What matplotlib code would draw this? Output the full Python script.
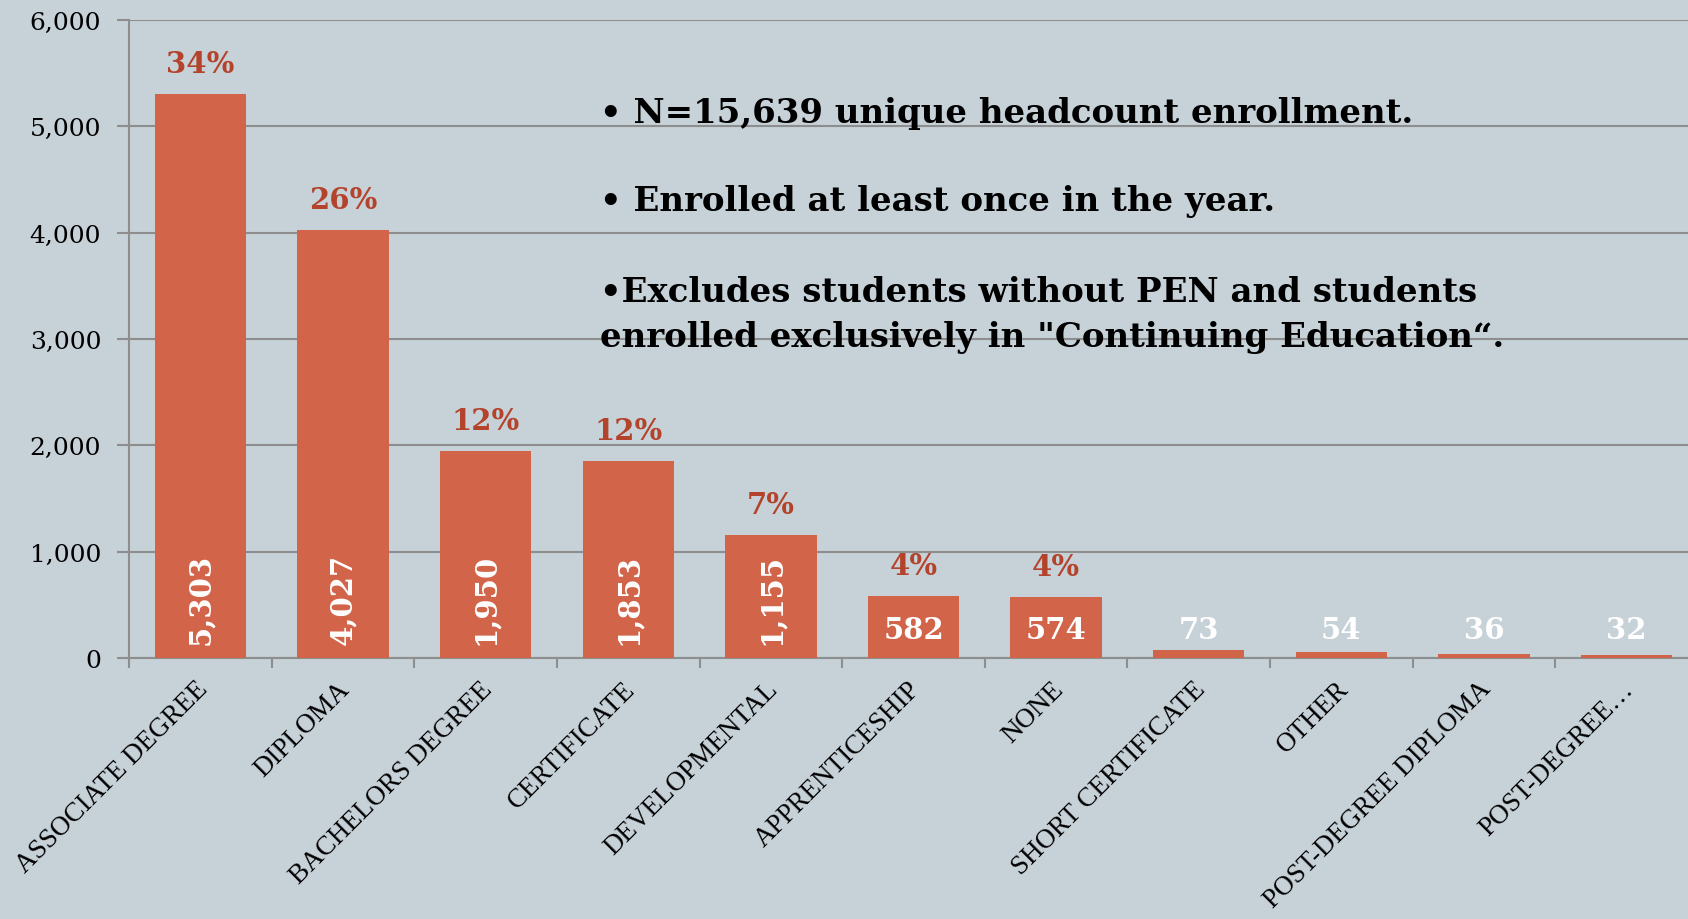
import numpy as np
import matplotlib.pyplot as plt

categories = ['ASSOCIATE DEGREE', 'DIPLOMA', 'BACHELORS DEGREE', 'CERTIFICATE',
              'DEVELOPMENTAL', 'APPRENTICESHIP', 'NONE', 'SHORT CERTIFICATE',
              'OTHER', 'POST-DEGREE DIPLOMA', 'POST-DEGREE…']
headcount = [5303, 4027, 1950, 1853, 1155, 582, 574, 73, 54, 36, 32]
pct_labels = ['34%', '26%', '12%', '12%', '7%', '4%', '4%', '', '', '', '']
notes = ['• N=15,639 unique headcount enrollment.',
         '• Enrolled at least once in the year.',
         '•Excludes students without PEN and students',
         'enrolled exclusively in "Continuing Education“.']

bg = '#C6D1D8'
bar_col = '#D26449'
pct_col = '#B4432B'
grid_col = '#8E8E8E'
serif = ['DejaVu Serif']

fig = plt.figure(figsize=(16.88, 9.2), dpi=100)
fig.patch.set_facecolor(bg)
W, H = 1688, 920
ax = fig.add_axes([129 / W, 261 / H, 1569 / W, 638 / H])
ax.set_facecolor(bg)

x = np.arange(len(categories))
ax.bar(x, headcount, width=0.64, color=bar_col, zorder=3)

ax.set_xlim(-0.5, len(categories) - 0.5)
ax.set_ylim(0, 6000)
ax.set_yticks(range(0, 6001, 1000))
ax.set_yticklabels([f'{v:,}' for v in range(0, 6001, 1000)],
                   fontsize=18, family=serif, color='black')
ax.yaxis.grid(True, color=grid_col, linewidth=1.5, zorder=0)
ax.set_axisbelow(True)

# ticks between categories
ax.set_xticks(np.arange(len(categories) + 1) - 0.5)
ax.set_xticklabels([])
ax.tick_params(axis='x', length=7, width=1.5, color=grid_col, direction='out')
ax.tick_params(axis='y', length=9, width=1.5, color=grid_col, direction='out', pad=11)
for s in ['top', 'right']:
    ax.spines[s].set_visible(False)
for s in ['left', 'bottom']:
    ax.spines[s].set_color(grid_col)
    ax.spines[s].set_linewidth(1.5)

# category labels
for i, c in enumerate(categories):
    ax.annotate(c, (i, 0), xytext=(-4, -13), textcoords='offset points',
                rotation=45, ha='right', va='top', rotation_mode='anchor',
                fontsize=19.5, family=['Liberation Serif'], color='black')

# values and percentages
for i, (v, p) in enumerate(zip(headcount, pct_labels)):
    rot = 90 if v > 1000 else 0
    ax.annotate(f'{v:,}', (i, 0), xytext=(0, 10), textcoords='offset points',
                rotation=rot, ha='center', va='bottom', fontsize=21,
                fontweight='bold', family=serif, color='white', zorder=4)
    if p:
        ax.annotate(p, (i, v), xytext=(0, 22), textcoords='offset points',
                    ha='center', va='center', fontsize=21, fontweight='bold',
                    family=serif, color=pct_col, zorder=4)

# notes
note_y = [113, 202, 293, 338]
for t, yy in zip(notes, note_y):
    fig.text(600 / W, 1 - yy / H, t, ha='left', va='center', fontsize=24.5,
             fontweight='bold', family=serif, color='black')

fig.savefig('out.png', dpi=100, facecolor=bg)
